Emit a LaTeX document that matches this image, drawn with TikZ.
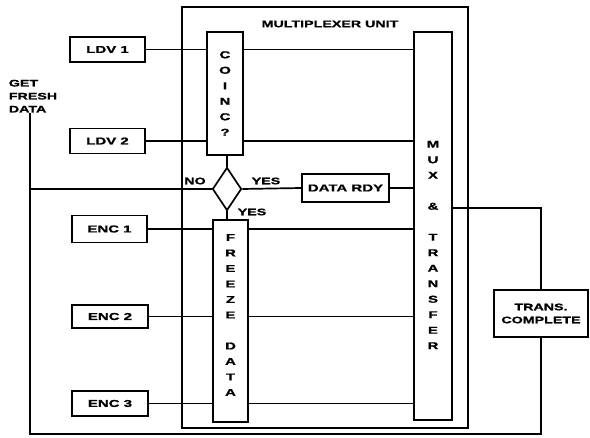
\documentclass[tikz,border=0pt]{standalone}
\usepackage{fontspec}
\setmainfont{Liberation Sans}[FakeStretch=1.5, FakeBold=1.2]
\usetikzlibrary{shapes.geometric}
\begin{document}
\begin{tikzpicture}[x=1pt,y=-1pt, line width=1.7pt,
  box/.style={draw, rectangle, inner sep=0pt, align=center, font=\bfseries\fontsize{10}{12}\selectfont},
  vtext/.style={align=center, inner sep=0pt, font=\bfseries\fontsize{10}{15.5}\selectfont},
  lbl/.style={inner sep=0pt, font=\bfseries\fontsize{9.5}{13}\selectfont}]
\useasboundingbox (0,0) rectangle (590,438);
% outer unit
\node[draw, minimum width=286pt, minimum height=421pt, inner sep=0pt] (unit) at (325,217.5) {};
\node[lbl] (title) at (330,24) {MULTIPLEXER UNIT};
% inputs
\node[box, minimum width=75pt, minimum height=25pt] (ldv1) at (107.5,49.5) {LDV 1};
\node[box, minimum width=75pt, minimum height=25pt] (ldv2) at (107.5,141) {LDV 2};
\node[box, minimum width=75pt, minimum height=27pt] (enc1) at (109.5,229) {ENC 1};
\node[box, minimum width=76pt, minimum height=23pt] (enc2) at (110,316.5) {ENC 2};
\node[box, minimum width=76pt, minimum height=25pt] (enc3) at (110,403.5) {ENC 3};
% COINC
\node[box, minimum width=36pt, minimum height=123pt] (coinc) at (225,93.5) {};
\node[vtext] (coinct) at (coinc) {C\\O\\I\\N\\C\\?};
% decision
\node[diamond, draw, minimum width=29pt, minimum height=43pt, inner sep=0pt] (dec) at (227,189) {};
\node[lbl] (no) at (195,181) {NO};
\node[lbl] (yes1) at (266,181) {YES};
\node[lbl] (yes2) at (252,212) {YES};
% data ready
\node[box, minimum width=87pt, minimum height=28pt] (rdy) at (345.5,188) {DATA RDY};
% freeze
\node[box, minimum width=35pt, minimum height=202pt] (freeze) at (230.5,321) {};
\node[vtext] (freezet) at (230.5,315) {F\\R\\E\\E\\Z\\E\\~\\D\\A\\T\\A};
% mux
\node[box, minimum width=38pt, minimum height=388pt] (mux) at (433,226) {};
\node[vtext] (muxt) at (433,245) {M\\U\\X\\~\\\&\\~\\T\\R\\A\\N\\S\\F\\E\\R};
% trans complete
\node[box, minimum width=94pt, minimum height=47pt, font=\bfseries\fontsize{9.5}{13}\selectfont] (trans) at (541,313.5) {TRANS.\\COMPLETE};
% get fresh data
\node[lbl, align=left, anchor=north west] (gfd) at (8,79) {GET\\FRESH\\DATA};
% coordinates
\coordinate (bl) at (30,434);
\coordinate (tr) at (541,208);
% connectors
\draw (ldv1.east) -- (ldv1.east -| coinc.west);
\draw (ldv2.east) -- (ldv2.east -| coinc.west);
\draw (coinc.east |- ldv1.east) -- (ldv1.east -| mux.west);
\draw (coinc.east |- ldv2.east) -- (ldv2.east -| mux.west);
\draw (dec.north |- coinc.south) -- (dec.north);
\draw (dec.west) -- (dec.west -| bl);
\draw (dec.east) -- (rdy.west);
\draw (rdy.east) -- (rdy.east -| mux.west);
\draw (dec.south) -- (dec.south |- freeze.north);
\draw (enc1.east) -- (enc1.east -| freeze.west);
\draw (enc2.east) -- (enc2.east -| freeze.west);
\draw (enc3.east) -- (enc3.east -| freeze.west);
\draw (freeze.east |- enc1.east) -- (enc1.east -| mux.west);
\draw (freeze.east |- enc2.east) -- (enc2.east -| mux.west);
\draw (freeze.east |- enc3.east) -- (enc3.east -| mux.west);
\draw (mux.east |- tr) -- (tr) -- (trans.north);
\draw (trans.south) |- (bl) -- (bl |- gfd.south);
\end{tikzpicture}
\end{document}
